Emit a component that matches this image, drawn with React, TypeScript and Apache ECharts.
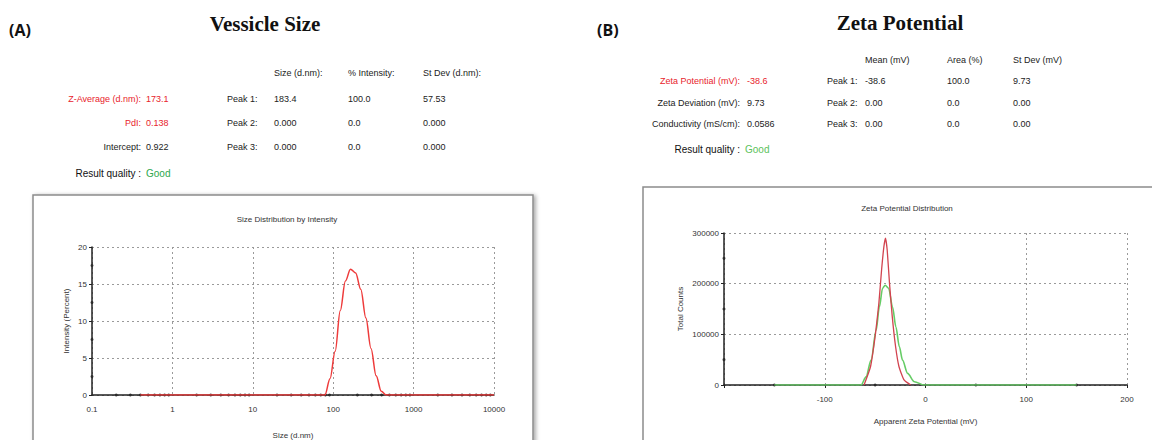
import React, { useEffect, useRef } from "react";
import * as echarts from "echarts";

// ---- (A) Size distribution by intensity ----
const sizeNm = [0.4, 68.06, 78.82, 91.28, 105.7, 122.4, 141.8, 164.2, 190.1, 220.2, 255.0, 295.3, 342.0, 396.1, 458.7, 531.2, 10000];
const intensityPct = [0, 0, 0, 2.2, 5.9, 11.4, 15.4, 17.0, 16.5, 14.3, 10.4, 6.3, 2.6, 0.5, 0, 0, 0];
const sizeDecades = [0.1, 1, 10, 100, 1000];
const decadeMultipliers = [2, 3, 4, 5, 6, 7, 8, 9];
const intensityMinorTicks = [2.5, 7.5, 12.5, 17.5];

// ---- (B) Zeta potential distribution ----
const zetaRedMv = [-61, -54.6, -49.6, -46.3, -43.6, -41.3, -39.7, -38, -35.7, -33, -29.7, -26.3, -21.3, -14.7];
const zetaRedCounts = [0, 36000, 102000, 161000, 227000, 273000, 290000, 266000, 200000, 135000, 76000, 36000, 10000, 0];
const zetaGreenMv = [-150, -64, -59, -54, -49, -45.8, -42.6, -40, -36.6, -32.7, -29.4, -26, -22.8, -17.8, -11, -1.3, 150];
const zetaGreenCounts = [0, 0, 16000, 49000, 108000, 154000, 191000, 197000, 191000, 154000, 115000, 76000, 49000, 23000, 6500, 0, 0];
const zetaMinorTicks = [-150, -50, 50, 150];
const countsMinorTicks = [50000, 150000, 250000];

// ---- tables ----
const tableAHeaders = ["Size (d.nm):", "% Intensity:", "St Dev (d.nm):"];
const tableALeft = [
  { label: "Z-Average (d.nm):", value: "173.1", red: true },
  { label: "PdI:", value: "0.138", red: true },
  { label: "Intercept:", value: "0.922", red: false },
];
const tableAPeaks = [
  ["Peak 1:", "183.4", "100.0", "57.53"],
  ["Peak 2:", "0.000", "0.0", "0.000"],
  ["Peak 3:", "0.000", "0.0", "0.000"],
];
const tableBHeaders = ["Mean (mV)", "Area (%)", "St Dev (mV)"];
const tableBLeft = [
  { label: "Zeta Potential (mV):", value: "-38.6", red: true },
  { label: "Zeta Deviation (mV):", value: "9.73", red: false },
  { label: "Conductivity (mS/cm):", value: "0.0586", red: false },
];
const tableBPeaks = [
  ["Peak 1:", "-38.6", "100.0", "9.73"],
  ["Peak 2:", "0.00", "0.0", "0.00"],
  ["Peak 3:", "0.00", "0.0", "0.00"],
];

const SANS = '"Liberation Sans", Arial, sans-serif';
const RED = "#e8232c";

function txt(text: string, x: number, y: number, opts: any = {}) {
  return {
    type: "text",
    x,
    y,
    z: 10,
    scaleX: opts.scaleX || 1,
    style: {
      text,
      fill: opts.fill || "#222",
      font: opts.font || `9px ${SANS}`,
      align: opts.align || "left",
      verticalAlign: "middle",
    },
  };
}

export default function App() {
  const ref = useRef<HTMLDivElement>(null);
  useEffect(() => {
    if (!ref.current) return;
    const chart = echarts.init(ref.current, undefined, { renderer: "svg" });

    const graphics: any[] = [];
    // frames
    graphics.push({
      type: "rect", z: -10,
      shape: { x: 33, y: 195, width: 500, height: 270 },
      style: { fill: "#fff", stroke: "#8c8c8c", lineWidth: 1.5, shadowBlur: 4, shadowOffsetX: 2, shadowOffsetY: 1, shadowColor: "rgba(0,0,0,0.35)" },
    });
    graphics.push({
      type: "rect", z: -10,
      shape: { x: 643, y: 187, width: 530, height: 280 },
      style: { fill: "#fff", stroke: "#8c8c8c", lineWidth: 1.5 },
    });
    // headings
    graphics.push(txt("(A)", 9, 30, { font: 'bold 16px "Open Sans", "Liberation Sans", sans-serif', fill: "#111" }));
    graphics.push(txt("Vessicle Size", 265, 24, { font: 'bold 21px "Liberation Serif", serif', fill: "#111", align: "center" }));
    graphics.push(txt("(B)", 597, 30, { font: 'bold 16px "Open Sans", "Liberation Sans", sans-serif', fill: "#111" }));
    graphics.push(txt("Zeta Potential", 900, 23, { font: 'bold 21px "Liberation Serif", serif', fill: "#111", align: "center" }));

    // table A
    const aCols = [274, 348, 423];
    tableAHeaders.forEach((h, i) => graphics.push(txt(h, aCols[i], 73)));
    const aRows = [99, 123, 147];
    tableALeft.forEach((r, i) => {
      graphics.push(txt(r.label, 141, aRows[i], { align: "right", fill: r.red ? RED : "#222" }));
      graphics.push(txt(r.value, 146, aRows[i], { fill: r.red ? RED : "#222" }));
    });
    tableAPeaks.forEach((row, i) => {
      graphics.push(txt(row[0], 227, aRows[i]));
      row.slice(1).forEach((v, j) => graphics.push(txt(v, aCols[j], aRows[i])));
    });
    graphics.push(txt("Result quality :", 141, 173, { align: "right", font: `10px ${SANS}`, fill: "#111" }));
    graphics.push(txt("Good", 146, 173, { fill: "#2ea84e", font: `10px ${SANS}` }));

    // table B
    const bCols = [865, 947, 1013];
    tableBHeaders.forEach((h, i) => graphics.push(txt(h, bCols[i], 60)));
    const bRows = [81, 103, 124];
    tableBLeft.forEach((r, i) => {
      graphics.push(txt(r.label, 740, bRows[i], { align: "right", fill: r.red ? RED : "#222" }));
      graphics.push(txt(r.value, 747, bRows[i], { fill: r.red ? RED : "#222" }));
    });
    tableBPeaks.forEach((row, i) => {
      graphics.push(txt(row[0], 827, bRows[i]));
      row.slice(1).forEach((v, j) => graphics.push(txt(v, bCols[j], bRows[i])));
    });
    graphics.push(txt("Result quality :", 740, 149, { align: "right", font: `10px ${SANS}`, fill: "#111" }));
    graphics.push(txt("Good", 745, 149, { fill: "#5cc25c", font: `10px ${SANS}` }));

    const sizeMinorDots = sizeDecades.flatMap((d) => decadeMultipliers.map((m) => [+(d * m).toPrecision(3), 0]));

    const axisFont = { fontSize: 8, fontFamily: SANS, color: "#333" };
    const dotted = { color: "#9a9a9a", type: [2, 3] as any, width: 1 };

    chart.setOption({
      animation: false,
      graphic: graphics,
      title: [
        { text: "Size Distribution by Intensity", left: 282, top: 210, textAlign: "center", textStyle: { fontSize: 8, fontWeight: "normal", fontFamily: SANS, color: "#333" } },
        { text: "Zeta Potential Distribution", left: 902, top: 199, textAlign: "center", textStyle: { fontSize: 8, fontWeight: "normal", fontFamily: SANS, color: "#333" } },
      ],
      grid: [
        { left: 92, top: 247, width: 402, height: 150 },
        { left: 724, top: 233, width: 403, height: 152 },
      ],
      xAxis: [
        {
          gridIndex: 0, type: "log", logBase: 10, min: 0.1, max: 10000,
          name: "Size (d.nm)", nameLocation: "middle", nameGap: 36, nameTextStyle: { ...axisFont },
          axisLine: { onZero: false, lineStyle: { color: "#222", width: 1.5 } },
          axisTick: { show: false },
          axisLabel: { ...axisFont, margin: 10, formatter: (v: number) => String(v) },
          splitLine: { show: true, lineStyle: dotted },
        },
        {
          gridIndex: 1, type: "value", min: -200, max: 200, interval: 100,
          name: "Apparent Zeta Potential (mV)", nameLocation: "middle", nameGap: 32, nameTextStyle: { ...axisFont },
          axisLine: { onZero: false, lineStyle: { color: "#222", width: 1.5 } },
          axisTick: { show: true, length: 3, inside: false, lineStyle: { color: "#222" } },
          axisLabel: { ...axisFont, margin: 10, formatter: (v: number) => (v === -200 ? "" : String(v)) },
          splitLine: { show: true, lineStyle: dotted },
        },
      ],
      yAxis: [
        {
          gridIndex: 0, type: "value", min: 0, max: 20, interval: 5,
          name: "Intensity (Percent)", nameLocation: "middle", nameGap: 22, nameTextStyle: { ...axisFont },
          axisLine: { show: true, onZero: false, lineStyle: { color: "#222", width: 1.5 } },
          axisTick: { show: true, length: 3, lineStyle: { color: "#222" } },
          axisLabel: { ...axisFont, margin: 5 },
          splitLine: { show: true, lineStyle: dotted },
        },
        {
          gridIndex: 1, type: "value", min: 0, max: 300000, interval: 100000,
          name: "Total Counts", nameLocation: "middle", nameGap: 40, nameTextStyle: { ...axisFont },
          axisLine: { show: true, onZero: false, lineStyle: { color: "#222", width: 1.5 } },
          axisTick: { show: true, length: 3, lineStyle: { color: "#222" } },
          axisLabel: { ...axisFont, margin: 5, formatter: (v: number) => String(v) },
          splitLine: { show: true, lineStyle: dotted },
        },
      ],
      series: [
        {
          type: "scatter", xAxisIndex: 0, yAxisIndex: 0, z: 1, symbolSize: 3, silent: true,
          itemStyle: { color: "#222" }, data: sizeMinorDots,
        },
        {
          type: "scatter", xAxisIndex: 0, yAxisIndex: 0, z: 1, symbolSize: 3, silent: true,
          itemStyle: { color: "#222" }, data: intensityMinorTicks.map((v) => [0.1, v]),
        },
        {
          name: "Intensity", type: "line", xAxisIndex: 0, yAxisIndex: 0, z: 3,
          showSymbol: false, smooth: 0.35, smoothMonotone: "x",
          lineStyle: { color: "#ee3b3b", width: 1.5 },
          data: sizeNm.map((s, i) => [s, intensityPct[i]]),
        },
        {
          type: "scatter", xAxisIndex: 1, yAxisIndex: 1, z: 1, symbolSize: 3, silent: true,
          itemStyle: { color: "#222" }, data: zetaMinorTicks.map((v) => [v, 0]),
        },
        {
          type: "scatter", xAxisIndex: 1, yAxisIndex: 1, z: 1, symbolSize: 3, silent: true,
          itemStyle: { color: "#222" }, data: countsMinorTicks.map((v) => [-200, v]),
        },
        {
          name: "Run 2", type: "line", xAxisIndex: 1, yAxisIndex: 1, z: 3,
          showSymbol: false, smooth: 0.3, smoothMonotone: "x",
          lineStyle: { color: "#66cc66", width: 1.6 },
          data: zetaGreenMv.map((x, i) => [x, zetaGreenCounts[i]]),
        },
        {
          name: "Run 1", type: "line", xAxisIndex: 1, yAxisIndex: 1, z: 4,
          showSymbol: false, smooth: 0.15,
          lineStyle: { color: "#d2434f", width: 1.3 },
          data: zetaRedMv.map((x, i) => [x, zetaRedCounts[i]]),
        },
      ],
    });
    return () => chart.dispose();
  }, []);
  return <div ref={ref} style={{ position: "fixed", left: 0, top: 0, width: 1152, height: 440, background: "#fff" }} />;
}
